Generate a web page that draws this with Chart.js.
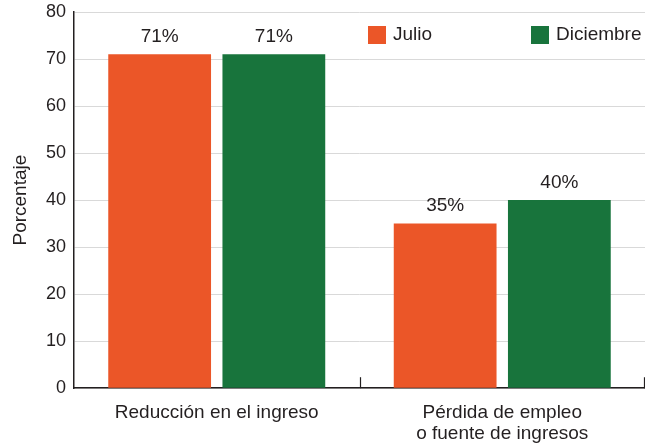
<!DOCTYPE html>
<html lang="es">
<head>
<meta charset="UTF-8">
<script src="https://cdn.jsdelivr.net/npm/chart.js"></script>
<title>Porcentaje</title>
<style>
  html, body { margin: 0; padding: 0; background: #fff; }
  #wrap { width: 645px; height: 444px; }
</style>
</head>
<body>
<div id="wrap"><canvas id="myChart"></canvas></div>
<script>
const categories = [['Reducción en el ingreso'], ['Pérdida de empleo', 'o fuente de ingresos']];
const julio = [71, 35];
const diciembre = [71, 40];
const yTicks = [0, 10, 20, 30, 40, 50, 60, 70, 80];

const FONT = '"Liberation Sans", Arial, sans-serif';
const TEXT = '#231f20';

// labels with % above each bar
const barLabels = {
  id: 'barLabels',
  afterDatasetsDraw(chart) {
    const ctx = chart.ctx;
    ctx.save();
    ctx.font = '19px ' + FONT;
    ctx.fillStyle = TEXT;
    ctx.textAlign = 'center';
    ctx.textBaseline = 'bottom';
    chart.data.datasets.forEach((ds, i) => {
      chart.getDatasetMeta(i).data.forEach((bar, j) => {
        ctx.fillText(ds.data[j] + '%', bar.x, bar.y - 8);
      });
    });
    ctx.restore();
  }
};

// small upward ticks at category boundaries
const catTicks = {
  id: 'catTicks',
  afterDraw(chart) {
    const x = chart.scales.x, y = chart.scales.y;
    const ctx = chart.ctx;
    const base = y.getPixelForValue(0);
    ctx.save();
    ctx.strokeStyle = TEXT;
    ctx.lineWidth = 1.2;
    for (let i = 1; i <= categories.length; i++) {
      let px = i === categories.length ? x.right - 1 : (x.getPixelForValue(i - 1) + x.getPixelForValue(i)) / 2;
      px = Math.round(px) + 0.5;
      ctx.beginPath();
      ctx.moveTo(px, base);
      ctx.lineTo(px, base - 11);
      ctx.stroke();
    }
    ctx.restore();
  }
};

// legend drawn inside the plot, top right
const insideLegend = {
  id: 'insideLegend',
  afterDraw(chart) {
    const ctx = chart.ctx;
    const area = chart.chartArea;
    const boxX = [area.left + 294, area.left + 457];
    const top = area.top + 14;
    ctx.save();
    ctx.font = '19px ' + FONT;
    ctx.textBaseline = 'middle';
    ctx.textAlign = 'left';
    chart.data.datasets.forEach((ds, i) => {
      ctx.fillStyle = ds.backgroundColor;
      ctx.fillRect(boxX[i], top, 18, 18);
      ctx.fillStyle = TEXT;
      ctx.fillText(ds.label, boxX[i] + 25, top + 9);
    });
    ctx.restore();
  }
};

new Chart(document.getElementById('myChart'), {
  type: 'bar',
  data: {
    labels: categories,
    datasets: [
      { label: 'Julio', data: julio, backgroundColor: '#eb5628' },
      { label: 'Diciembre', data: diciembre, backgroundColor: '#18743c' }
    ]
  },
  options: {
    responsive: true,
    maintainAspectRatio: false,
    animation: false,
    categoryPercentage: 0.8,
    barPercentage: 0.9,
    layout: { padding: { top: 12, right: 0, left: 0, bottom: -6 } },
    plugins: {
      tooltip: { enabled: false },
      legend: { display: false }
    },
    scales: {
      x: {
        grid: { display: false },
        border: { color: TEXT, width: 1.5 },
        ticks: { color: TEXT, font: { family: FONT, size: 19, lineHeight: 1.1 }, padding: 6 }
      },
      y: {
        min: 0,
        max: 80,
        afterBuildTicks(scale) { scale.ticks = yTicks.map(v => ({ value: v })); },
        afterFit(scale) {
          scale.width = 74;
          scale.paddingTop = 0;
          scale.paddingBottom = 0;
        },
        grid: { color: '#d9d9d9', drawTicks: false },
        border: { color: TEXT, width: 1.5 },
        ticks: { color: TEXT, font: { family: FONT, size: 18 }, padding: 8 },
        title: { display: true, text: 'Porcentaje', color: TEXT, font: { family: FONT, size: 19 }, padding: { top: 9, bottom: 0 } }
      }
    }
  },
  plugins: [barLabels, catTicks, insideLegend]
});
</script>
</body>
</html>
